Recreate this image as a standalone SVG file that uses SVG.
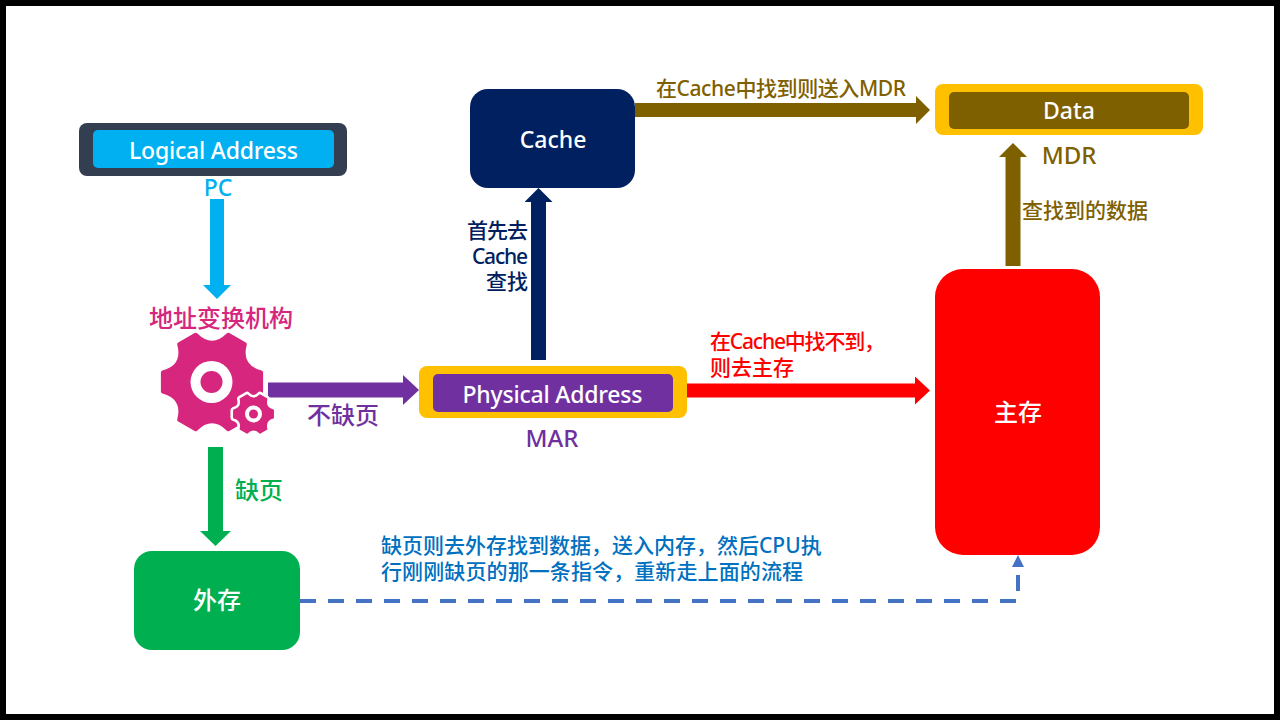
<svg xmlns="http://www.w3.org/2000/svg" width="1280" height="720" viewBox="0 0 1280 720">
<style>
text{font-family:"Noto Sans","Noto Sans CJK SC",sans-serif;font-size:21px;text-anchor:middle}
.w{fill:#fff;font-size:23px;font-weight:500}
.l{font-size:21px;font-weight:500}
.t{font-size:24px;font-weight:500}
.s{text-anchor:start}
.e{text-anchor:end}
.a{fill:none;stroke-width:14}
.g{stroke-linejoin:round;stroke-width:8}
</style>
<defs>
<path id="gear" d="M98.200 -19.100L98.200 19.100Q53.700 31 65.600 75.500L32.600 94.600Q0 62 -32.600 94.600L-65.600 75.500Q-53.700 31 -98.200 19.100L-98.200 -19.100Q-53.700 -31 -65.600 -75.500L-32.600 -94.600Q0 -62 32.600 -94.600L65.600 -75.500Q53.700 -31 98.200 -19.100Z"/>
<marker id="mBlue" markerUnits="userSpaceOnUse" markerWidth="14" markerHeight="28" refX="0" refY="14" orient="auto"><path d="M0 0L14 14L0 28Z" fill="#00B0F0"/></marker>
<marker id="mPurple" markerUnits="userSpaceOnUse" markerWidth="16" markerHeight="30" refX="0" refY="15" orient="auto"><path d="M0 0L16 15L0 30Z" fill="#7030A0"/></marker>
<marker id="mRed" markerUnits="userSpaceOnUse" markerWidth="15" markerHeight="28" refX="0" refY="14" orient="auto"><path d="M0 0L15 14L0 28Z" fill="#FF0000"/></marker>
<marker id="mBrown" markerUnits="userSpaceOnUse" markerWidth="14" markerHeight="28" refX="0" refY="14" orient="auto"><path d="M0 0L14 14L0 28Z" fill="#7F6000"/></marker>
<marker id="mNavy" markerUnits="userSpaceOnUse" markerWidth="14" markerHeight="28" refX="0" refY="14" orient="auto"><path d="M0 0L14 14L0 28Z" fill="#002060"/></marker>
<marker id="mGreen" markerUnits="userSpaceOnUse" markerWidth="15" markerHeight="31" refX="0" refY="15.500" orient="auto"><path d="M0 0L15 15.500L0 31Z" fill="#00B050"/></marker>
<marker id="mDash" markerUnits="userSpaceOnUse" markerWidth="12" markerHeight="12" refX="0" refY="6" orient="auto"><path d="M0 0L12 6L0 12Z" fill="#4472C4"/></marker>
</defs>
<rect x="3" y="3" width="1274" height="714" fill="#fff" stroke="#000" stroke-width="6"/>
<g id="connectors">
<line class="a" x1="217" y1="199" x2="217" y2="285" stroke="#00B0F0" marker-end="url(#mBlue)"/>
<line class="a" x1="268" y1="390" x2="403" y2="390" stroke="#7030A0" style="stroke-width:15" marker-end="url(#mPurple)"/>
<line class="a" x1="215.500" y1="447" x2="215.500" y2="531" stroke="#00B050" style="stroke-width:15" marker-end="url(#mGreen)"/>
<line class="a" x1="538.500" y1="360" x2="538.500" y2="202" stroke="#002060" style="stroke-width:15" marker-end="url(#mNavy)"/>
<line class="a" x1="635" y1="110" x2="916" y2="110" stroke="#7F6000" marker-end="url(#mBrown)"/>
<line class="a" x1="687" y1="390.500" x2="915" y2="390.500" stroke="#FF0000" marker-end="url(#mRed)"/>
<line class="a" x1="1013" y1="266" x2="1013" y2="157" stroke="#7F6000" style="stroke-width:15" marker-end="url(#mBrown)"/>
<path d="M300 601H1018V567" fill="none" stroke="#4472C4" stroke-width="4" stroke-dasharray="16 12" marker-end="url(#mDash)"/>
</g>
<g id="logical">
<rect x="79" y="123" width="268" height="53" rx="8" fill="#333F50"/>
<rect x="93" y="130" width="241" height="38" rx="5" fill="#00B0F0"/>
<text class="w" x="213.500" y="159" textLength="169">Logical Address</text>
<text x="218" y="196" fill="#00B0F0" style="font-size:23px;font-weight:500">PC</text>
</g>
<g id="mmu">
<text class="t" x="221" y="327" fill="#D6267D">地址变换机构</text>
<use class="g" href="#gear" transform="translate(212 382) scale(.5)" fill="#D6267D" stroke="#D6267D"/>
<circle cx="211.500" cy="382" r="21" fill="#fff"/>
<circle cx="211.500" cy="382" r="11" fill="#D6267D"/>
<use href="#gear" transform="translate(253.500 414) scale(.2)" fill="#fff" stroke="#fff" stroke-width="34" stroke-linejoin="round"/>
<use class="g" href="#gear" transform="translate(253.500 414) scale(.2)" fill="#D6267D" stroke="#D6267D"/>
<circle cx="253.500" cy="414" r="8.500" fill="#fff"/>
<circle cx="253.500" cy="414" r="4.500" fill="#D6267D"/>
</g>
<g id="physical">
<rect x="419" y="366" width="268" height="52" rx="8" fill="#FFC000"/>
<rect x="433" y="374" width="240" height="38" rx="5" fill="#7030A0"/>
<text class="w" x="552.500" y="403" textLength="180">Physical Address</text>
<text class="t" x="552" y="447" fill="#7030A0">MAR</text>
</g>
<g id="cache">
<rect x="470" y="89" width="165" height="99" rx="18" fill="#002060"/>
<text class="w" x="553" y="148">Cache</text>
</g>
<g id="data">
<rect x="935" y="84" width="268" height="51" rx="8" fill="#FFC000"/>
<rect x="949" y="92" width="240" height="37" rx="5" fill="#7F6000"/>
<text class="w" x="1069" y="119">Data</text>
<text class="t" x="1069" y="164" fill="#7F6000">MDR</text>
</g>
<g id="memory">
<rect x="935" y="269" width="165" height="286" rx="28" fill="#FF0000"/>
<text class="w" x="1018" y="421" style="font-size:24px">主存</text>
</g>
<g id="disk">
<rect x="134" y="551" width="166" height="99" rx="18" fill="#00B050"/>
<text class="w" x="217" y="609" style="font-size:24px">外存</text>
</g>
<g id="labels">
<text class="l" x="781" y="96" fill="#7F6000" textLength="250">在Cache中找到则送入MDR</text>
<text class="l e" x="528" y="238" fill="#002060" textLength="61">首先去</text>
<text class="l e" x="528" y="264" fill="#002060" textLength="56">Cache</text>
<text class="l e" x="528" y="289" fill="#002060">查找</text>
<text class="l s" x="710" y="349" fill="#FF0000" textLength="175">在Cache中找不到，</text>
<text class="l s" x="710" y="375" fill="#FF0000">则去主存</text>
<text class="l" x="1085" y="218" fill="#7F6000">查找到的数据</text>
<text class="t" x="343" y="424" fill="#7030A0">不缺页</text>
<text class="t" x="259" y="499" fill="#00B050">缺页</text>
<text class="l s" x="381" y="553" fill="#0070C0">缺页则去外存找到数据，送入内存，然后CPU执</text>
<text class="l s" x="381" y="579" fill="#0070C0" textLength="422">行刚刚缺页的那一条指令，重新走上面的流程</text>
</g>
</svg>
